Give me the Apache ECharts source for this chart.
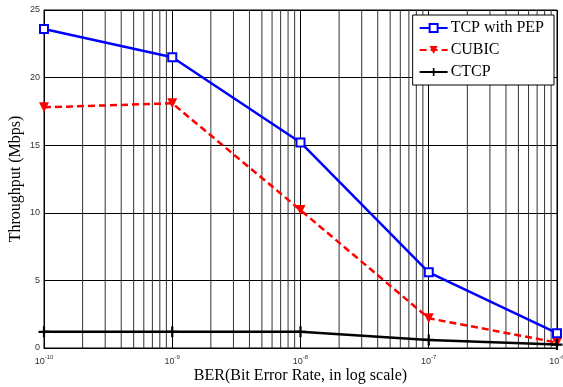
<!DOCTYPE html>
<html>
<head>
<meta charset="utf-8">
<script src="https://cdn.jsdelivr.net/npm/echarts@6/dist/echarts.min.js"></script>
<style>
  html, body { margin: 0; padding: 0; background: #fff; }
  #chart { width: 563px; height: 387px; }
</style>
</head>
<body>
<div id="chart"></div>
<script>
// BER points (log scale on x)
var berValues = [1e-10, 1e-9, 1e-8, 1e-7, 1e-6];
// throughput in Mbps
var tcpPep = [23.6, 21.5, 15.2, 5.6, 1.1];
var cubic = [17.8, 18.1, 10.2, 2.2, 0.4];
var ctcp = [1.2, 1.2, 1.2, 0.6, 0.25];
// decade exponents and minor grid multipliers
var decades = [-10, -9, -8, -7];
var minorSteps = [2, 3, 4, 5, 6, 7, 8, 9];
var yMin = 0, yMax = 25;

function pairs(ys) {
    var res = [];
    for (var i = 0; i < berValues.length; i++) {
        res.push([berValues[i], ys[i]]);
    }
    return res;
}

// minor log grid: vertical segments split by gaps
var minorGrid = [];
decades.forEach(function(d) {
    minorSteps.forEach(function(m) {
        var x = m * Math.pow(10, d);
        minorGrid.push([x, yMin], [x, yMax], [x, '-']);
    });
});

var plusPath = 'path://M4,0h2v4h4v2h-4v4h-2v-4h-4v-2h4z';

var chart = echarts.init(document.getElementById('chart'));
var option = {
    animation: false,
    backgroundColor: '#fff',
    grid: {
        left: 44,
        right: 6,
        top: 10,
        bottom: 39,
        outerBoundsMode: 'none',
        containLabel: false,
        show: true,
        borderColor: '#000',
        borderWidth: 1
    },
    legend: {
        orient: 'vertical',
        right: 9,
        top: 15,
        padding: [5, 10, 5, 6],
        itemGap: 6,
        itemWidth: 28,
        itemHeight: 10,
        backgroundColor: '#fff',
        borderColor: '#000',
        borderWidth: 1,
        textStyle: {
            fontFamily: 'Liberation Serif',
            fontSize: 16,
            color: '#000',
            padding: [0, 0, 0, -2]
        },
        data: ['TCP with PEP', 'CUBIC', 'CTCP']
    },
    xAxis: {
        type: 'log',
        logBase: 10,
        min: 1e-10,
        max: 1e-6,
        name: 'BER(Bit Error Rate, in log scale)',
        nameLocation: 'middle',
        nameGap: 20,
        nameMoveOverlap: false,
        nameTextStyle: {
            fontFamily: 'Liberation Serif',
            fontSize: 16,
            color: '#000'
        },
        axisLine: { show: true, lineStyle: { color: '#000', width: 1 } },
        axisTick: { show: false },
        splitLine: { show: true, lineStyle: { color: '#000', width: 1 } },
        axisLabel: {
            margin: 4,
            formatter: function(v) {
                var e = Math.round(Math.log(v) / Math.LN10);
                return '{b|10}{s|' + e + '}';
            },
            rich: {
                b: { fontFamily: 'Liberation Sans', fontSize: 9, color: '#333', verticalAlign: 'bottom', padding: [5, 0, 0, 0] },
                s: { fontFamily: 'Liberation Sans', fontSize: 6, color: '#333', verticalAlign: 'bottom', padding: [0, 0, 6, 0] }
            }
        }
    },
    yAxis: {
        type: 'value',
        min: yMin,
        max: yMax,
        interval: 5,
        name: 'Throughput (Mbps)',
        nameLocation: 'middle',
        nameGap: 20,
        nameMoveOverlap: false,
        nameTextStyle: {
            fontFamily: 'Liberation Serif',
            fontSize: 16,
            color: '#000'
        },
        axisLine: { show: true, lineStyle: { color: '#000', width: 1 } },
        axisTick: { show: false },
        splitLine: { show: true, lineStyle: { color: '#000', width: 1 } },
        axisLabel: {
            margin: 4,
            fontFamily: 'Liberation Sans',
            fontSize: 9,
            color: '#333'
        }
    },
    series: [
        {
            name: 'minor',
            type: 'line',
            data: minorGrid,
            symbol: 'none',
            silent: true,
            connectNulls: false,
            lineStyle: { color: '#333', width: 1 },
            z: 1
        },
        {
            name: 'TCP with PEP',
            type: 'line',
            data: pairs(tcpPep),
            symbol: 'emptyRect',
            symbolSize: 8,
            lineStyle: { color: '#0000ff', width: 2.5 },
            itemStyle: { color: '#0000ff', borderWidth: 2 },
            z: 5
        },
        {
            name: 'CUBIC',
            type: 'line',
            data: pairs(cubic),
            symbol: 'triangle',
            symbolRotate: 180,
            symbolSize: 10,
            lineStyle: { color: '#ff0000', width: 2.5, type: [7, 4] },
            itemStyle: { color: '#ff0000' },
            z: 4
        },
        {
            name: 'CTCP',
            type: 'line',
            data: pairs(ctcp),
            symbol: plusPath,
            symbolSize: 11,
            lineStyle: { color: '#000', width: 2.5 },
            itemStyle: { color: '#000' },
            z: 6
        }
    ]
};
chart.setOption(option);
</script>
</body>
</html>
